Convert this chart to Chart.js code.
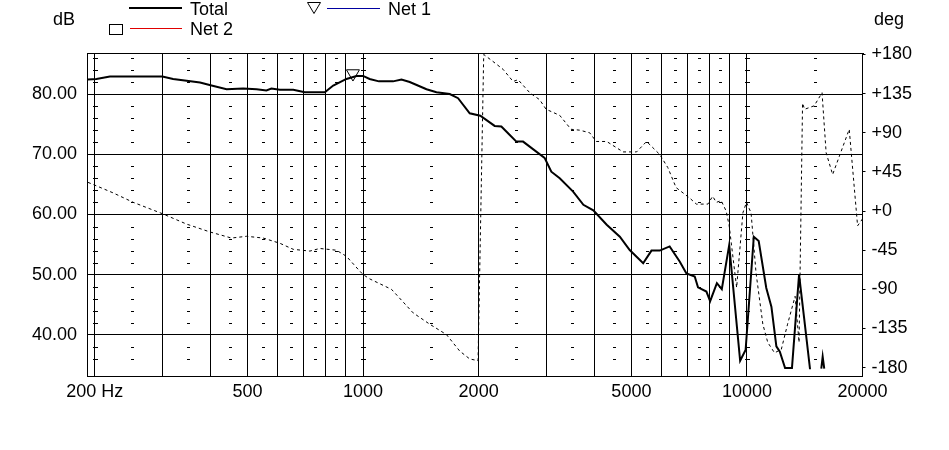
<!DOCTYPE html>
<html>
<head>
<meta charset="utf-8">
<script src="https://cdn.jsdelivr.net/npm/chart.js@4/dist/chart.umd.min.js"></script>
<style>
  body { margin: 0; background: #fff; }
  #wrap { position: relative; width: 949px; height: 450px; background: #fff; }
  #chart { position: absolute; left: 0; top: 0; }
  .lbl { position: absolute; font-family: 'Liberation Sans', Arial, sans-serif; font-size: 18px; line-height: 20px; color: #000; white-space: nowrap; }
  #keys { position: absolute; left: 0; top: 0; }
</style>
</head>
<body>
<div id="wrap">
  <canvas id="chart" width="949" height="450"></canvas>
  <svg id="keys" width="949" height="50">
    <line x1="129" y1="8" x2="182" y2="8" stroke="#000" stroke-width="2"/>
    <polygon points="307.5,2.5 320.5,2.5 314,13.5" fill="none" stroke="#000" stroke-width="1"/>
    <line x1="327" y1="8.5" x2="380" y2="8.5" stroke="#0000a0" stroke-width="1"/>
    <rect x="109.5" y="24.5" width="13" height="10" fill="none" stroke="#000" stroke-width="1"/>
    <line x1="130" y1="28.5" x2="182" y2="28.5" stroke="#e00000" stroke-width="1"/>
  </svg>
  <div class="lbl" style="left:53px;top:9px">dB</div>
  <div class="lbl" style="left:190px;top:-1px">Total</div>
  <div class="lbl" style="left:388px;top:-1px">Net 1</div>
  <div class="lbl" style="left:190px;top:19px">Net 2</div>
  <div class="lbl" style="left:874px;top:9px">deg</div>
</div>
<script>
// values
const totalFreq = [192, 202, 219, 300, 320, 347, 376, 403, 441, 487, 528, 560, 577, 607, 658, 705, 795, 836, 905, 961,
    1000, 1040, 1100, 1197, 1259, 1323, 1463, 1553, 1682, 1768, 1896, 2020, 2202, 2292, 2411, 2508, 2611, 2971, 3093, 3253,
    3525, 3749, 3979, 4312, 4665, 4950, 5366, 5640, 5927, 6290, 6680, 6956, 7311, 7456, 7841, 8020, 8350, 8600, 8990, 9600,
    9920, 10420, 10730, 11230, 11580, 11930, 12180, 12570, 13100, 13670, 14080, 14600, 15000, 15620, 15750, 15900];
const totalDb = [82.4, 82.5, 82.9, 82.9, 82.5, 82.2, 81.9, 81.4, 80.8, 80.9, 80.8, 80.6, 80.9, 80.7, 80.7, 80.3, 80.3, 81.4, 82.5, 83.0,
    83.0, 82.5, 82.1, 82.1, 82.4, 82.0, 80.8, 80.3, 80.0, 79.3, 76.8, 76.4, 74.7, 74.6, 73.2, 72.1, 72.1, 69.4, 67.1, 66.0,
    63.8, 61.6, 60.7, 58.3, 56.3, 54.1, 51.9, 54.0, 54.0, 54.7, 52.2, 50.2, 49.7, 47.9, 47.2, 45.6, 48.6, 47.6, 54.9, 35.7,
    37.5, 56.3, 55.6, 47.8, 44.7, 38.1, 37.2, 34.5, 34.5, 50.0, 43.0, 34.3, null, 34.4, 36.4, 34.4];

const phaseFreq = [192, 202, 223, 252, 300, 347, 399, 454, 497, 549, 607, 658, 727, 771, 852, 905, 971, 1000, 1041, 1186,
    1350, 1491, 1649, 1786, 1896, 1993, 2062, 2179, 2315, 2459, 2534, 2718, 2884, 2998, 3253, 3481, 3665, 3893, 4049, 4312,
    4757, 5158, 5478, 5927, 6221, 6537, 7092, 7383, 7911, 8140, 8323, 8570, 8828, 8990, 9400, 9761, 9970, 10250, 10560, 11000,
    11330, 11800, 12290, 12760, 13350, 13670, 13960, 14130, 14970, 15690, 16080, 16720, 18470, 19420, 20000];
const phaseDeg = [33, 29, 21, 10, -3, -15, -24, -31, -29, -31, -37, -44, -46, -43, -45, -52, -67, -73, -78, -90,
    -117, -130, -142, -161, -170, -172, 180, 172, 163, 149, 151, 136, 128, 117, 110, 94, 93, 90, 80, 80,
    68, 68, 80, 65, 50, 27, 15, 8, 8, 17, 10, 12, 0, -17, -88, -2, 10, -2, -71, -130,
    -151, -163, -159, -130, -98, -151, 124, 117, 121, 136, 67, 42, 94, -17, -9];

const net1Freq = [941];
const net1Db = [83.4];

// axes
const gridFreqs = [200, 300, 400, 500, 600, 700, 800, 900, 1000, 2000, 3000, 4000, 5000, 6000, 7000, 8000, 9000, 10000, 20000];
const freqLabels = { 200: "200 Hz", 500: "500", 1000: "1000", 2000: "2000", 5000: "5000", 10000: "10000", 20000: "20000" };
const dbTicks = [40, 50, 60, 70, 80];
const degTicks = [-180, -135, -90, -45, 0, 45, 90, 135, 180];
const minorFreqs = [250, 350, 450, 550, 650, 750, 850, 1500, 2500, 3500, 4500, 5500, 6500, 7500, 8500, 15000];
const crossFreqs = [200, 1000, 10000];
const minorDb = [36, 38, 42, 44, 46, 48, 52, 54, 56, 58, 62, 64, 66, 68, 72, 74, 76, 78, 82, 84, 86];

const font = { family: "'Liberation Sans', Arial, sans-serif", size: 18 };

const toPoints = (xs, ys) => xs.map((x, i) => ({ x: x, y: ys[i] }));

// top frame line and the little 2 dB marks of the minor grid
const framePlugin = {
    id: "frame",
    beforeDatasetsDraw(chart) {
        const ctx = chart.ctx;
        const xs = chart.scales.x;
        const ys = chart.scales.y;
        const area = chart.chartArea;
        ctx.save();
        ctx.fillStyle = "#000";
        minorDb.forEach((v) => {
            const y = Math.round(ys.getPixelForValue(v));
            minorFreqs.forEach((f) => {
                const x = Math.round(xs.getPixelForValue(f));
                ctx.fillRect(x - 1, y, 3, 1);
            });
            crossFreqs.forEach((f) => {
                const x = Math.round(xs.getPixelForValue(f));
                ctx.fillRect(x - 2, y, 5, 1);
            });
        });
        ctx.fillRect(Math.round(area.left), Math.round(area.top), Math.round(area.right - area.left) + 1, 1);
        ctx.restore();
    }
};

new Chart(document.getElementById("chart"), {
    type: "line",
    data: {
        datasets: [
            {
                label: "Net 1",
                data: toPoints(net1Freq, net1Db),
                showLine: false,
                pointStyle: "triangle",
                rotation: 180,
                pointRadius: 7.5,
                borderColor: "#000",
                borderWidth: 1,
                backgroundColor: "rgba(0,0,0,0)",
                yAxisID: "y"
            },
            {
                label: "Total",
                data: toPoints(totalFreq, totalDb),
                borderColor: "#000",
                borderWidth: 2,
                pointRadius: 0,
                tension: 0,
                yAxisID: "y"
            },
            {
                label: "Phase",
                data: toPoints(phaseFreq, phaseDeg),
                borderColor: "#000",
                borderWidth: 1,
                borderDash: [3, 3],
                pointRadius: 0,
                tension: 0,
                yAxisID: "y1"
            }
        ]
    },
    options: {
        responsive: false,
        animation: false,
        layout: { padding: { top: 53, left: 0, right: 0, bottom: 0 } },
        plugins: {
            legend: { display: false },
            tooltip: { enabled: false }
        },
        scales: {
            x: {
                type: "logarithmic",
                min: 190.9,
                max: 20000,
                afterBuildTicks: (s) => { s.ticks = gridFreqs.map(v => ({ value: v })); },
                afterFit: (s) => { s.height = 74; },
                grid: { color: "#000", lineWidth: 1, drawTicks: false },
                border: { color: "#000", width: 1 },
                ticks: {
                    autoSkip: false,
                    maxRotation: 0,
                    padding: 5,
                    color: "#000",
                    font: font,
                    callback: (v) => freqLabels[v] || ""
                }
            },
            y: {
                position: "left",
                min: 33.18,
                max: 86.81,
                afterBuildTicks: (s) => { s.ticks = dbTicks.map(v => ({ value: v })); },
                afterFit: (s) => { s.width = 87; },
                grid: { color: "#000", lineWidth: 1, drawTicks: false },
                border: { color: "#000", width: 1 },
                ticks: { padding: 10, color: "#000", font: font, callback: (v) => v.toFixed(2) }
            },
            y1: {
                position: "right",
                min: -189.6,
                max: 181.7,
                afterBuildTicks: (s) => { s.ticks = degTicks.map(v => ({ value: v })); },
                afterFit: (s) => { s.width = 86.5; },
                grid: { drawOnChartArea: false, color: "#000", tickLength: 3 },
                border: { color: "#000", width: 1 },
                ticks: { padding: 6, color: "#000", font: font, callback: (v) => (v >= 0 ? "+" + v : String(v)) }
            }
        }
    },
    plugins: [framePlugin]
});
</script>
</body>
</html>
